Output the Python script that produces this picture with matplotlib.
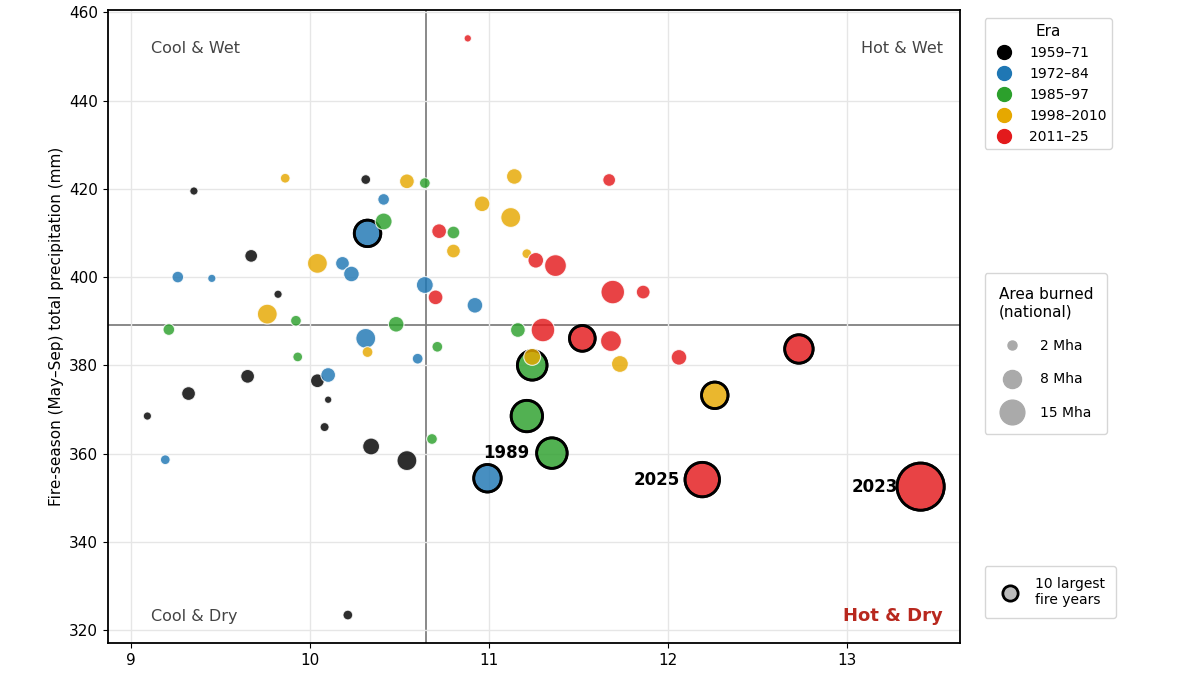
import numpy as np
import matplotlib
matplotlib.use("Agg")
import matplotlib.pyplot as plt
from matplotlib.lines import Line2D

# Fire-season mean temperature (x), total precipitation (y), area burned (Mha), top-10 flag
eras = ["1959–71", "1972–84", "1985–97", "1998–2010", "2011–25"]
era_colors = ["#000000", "#1f77b4", "#2ca02c", "#e6a800", "#e31a1c"]

temp_5971 = [9.35, 10.31, 9.67, 9.82, 9.65, 10.04, 9.32, 10.10, 9.09, 10.08, 10.34, 10.54, 10.21]
prec_5971 = [419.5, 422.1, 404.8, 396.1, 377.5, 376.5, 373.6, 372.2, 368.5, 366.0, 361.6, 358.4, 323.4]
area_5971 = [0.5, 0.7, 1.2, 0.5, 1.4, 1.4, 1.4, 0.4, 0.5, 0.6, 2.1, 2.9, 0.7]
top_5971 = [0] * 13

temp_7284 = [10.41, 10.32, 10.18, 10.23, 9.26, 9.45, 10.64, 10.92, 10.31, 10.60, 10.10, 9.19, 10.99]
prec_7284 = [417.6, 409.9, 403.1, 400.7, 400.0, 399.7, 398.2, 393.6, 386.1, 381.5, 377.8, 358.6, 354.4]
area_7284 = [1.0, 5.2, 1.4, 1.8, 1.0, 0.5, 2.1, 1.8, 2.9, 0.85, 1.6, 0.7, 5.6]
top_7284 = [0, 1, 0, 0, 0, 0, 0, 0, 0, 0, 0, 0, 1]

temp_8597 = [10.64, 10.41, 10.80, 9.92, 9.21, 10.48, 11.16, 10.71, 9.93, 11.24, 11.21, 11.35, 10.68]
prec_8597 = [421.3, 412.6, 410.1, 390.1, 388.1, 389.3, 388.0, 384.2, 381.9, 380.0, 368.5, 360.1, 363.3]
area_8597 = [0.85, 2.1, 1.2, 0.85, 1.0, 1.8, 1.6, 0.85, 0.7, 6.5, 7.3, 6.9, 0.85]
top_8597 = [0, 0, 0, 0, 0, 0, 0, 0, 0, 1, 1, 1, 0]

temp_9810 = [9.86, 10.54, 11.14, 10.96, 11.12, 10.80, 11.21, 10.04, 9.76, 10.32, 11.24, 11.73, 12.26]
prec_9810 = [422.4, 421.7, 422.8, 416.6, 413.5, 405.9, 405.3, 403.1, 391.6, 383.0, 381.9, 380.3, 373.2]
area_9810 = [0.7, 1.6, 1.8, 1.8, 2.9, 1.4, 0.7, 2.9, 2.9, 0.85, 2.1, 2.1, 5.2]
top_9810 = [0] * 12 + [1]

temp_1125 = [10.88, 11.67, 10.72, 11.26, 11.37, 11.69, 11.86, 10.70, 11.30, 11.52, 11.68, 12.06, 12.73, 12.19, 13.41]
prec_1125 = [454.1, 422.0, 410.4, 403.8, 402.6, 396.6, 396.6, 395.4, 388.0, 386.1, 385.5, 381.8, 383.7, 354.1, 352.5]
area_1125 = [0.4, 1.2, 1.6, 1.8, 3.5, 4.1, 1.4, 1.6, 4.1, 4.9, 3.2, 1.8, 6.0, 8.8, 16.5]
top_1125 = [0] * 9 + [1, 0, 0, 1, 1, 1]

labels = {1989: (11.35, 360.1), 2025: (12.19, 354.1), 2023: (13.41, 352.5)}

x_ref = 10.648
y_ref = 389.1

size_legend = [2, 8, 15]

temps = [temp_5971, temp_7284, temp_8597, temp_9810, temp_1125]
precs = [prec_5971, prec_7284, prec_8597, prec_9810, prec_1125]
areas = [area_5971, area_7284, area_8597, area_9810, area_1125]
tops = [top_5971, top_7284, top_8597, top_9810, top_1125]

fig = plt.figure(figsize=(12, 6.75), dpi=100)
ax = fig.add_axes([0.09, 0.047, 0.71, 0.938])

ax.grid(True, color="#e6e6e6", linewidth=1.0, zorder=0)
ax.axvline(x_ref, color="#808080", linewidth=1.3, zorder=1)
ax.axhline(y_ref, color="#808080", linewidth=1.3, zorder=1)

for i in range(5):
    t = np.array(tops[i]).astype(bool)
    s = np.array(areas[i]) * 70
    ec = ["black" if f else "white" for f in t]
    lw = [2.0 if f else 0.8 for f in t]
    ax.scatter(temps[i], precs[i], s=s, c=era_colors[i], alpha=0.82,
               edgecolors=ec, linewidths=lw, zorder=3 + i)
    # keep the black outline fully opaque
    ax.scatter(np.array(temps[i])[t], np.array(precs[i])[t], s=s[t], facecolors="none",
               edgecolors="black", linewidths=2.0, zorder=3 + i)

for yr, (x, y) in labels.items():
    ax.annotate(str(yr), (x, y), xytext=(-16, 0), textcoords="offset points",
                ha="right", va="center", fontsize=12, fontweight="bold", zorder=2)

ax.text(0.05, 0.94, "Cool & Wet", transform=ax.transAxes, fontsize=11.5, color="#444444", va="center")
ax.text(0.98, 0.94, "Hot & Wet", transform=ax.transAxes, fontsize=11.5, color="#444444", va="center", ha="right")
ax.text(0.05, 0.043, "Cool & Dry", transform=ax.transAxes, fontsize=11.5, color="#444444", va="center")
ax.text(0.98, 0.043, "Hot & Dry", transform=ax.transAxes, fontsize=13, color="#b8281e",
        fontweight="bold", va="center", ha="right")

ax.set_xlim(8.87, 13.63)
ax.set_ylim(317, 460.5)
ax.set_xticks([9, 10, 11, 12, 13])
ax.set_yticks(np.arange(320, 461, 20))
ax.tick_params(labelsize=11)
ax.set_ylabel("Fire-season (May–Sep) total precipitation (mm)", fontsize=11)
for sp in ax.spines.values():
    sp.set_linewidth(1.3)

era_handles = [Line2D([], [], marker="o", linestyle="", markersize=10, color=c, label=e)
               for e, c in zip(eras, era_colors)]
leg1 = ax.legend(handles=era_handles, title="Era", loc="upper left", bbox_to_anchor=(1.029, 0.987),
                 borderaxespad=0, fontsize=10, title_fontsize=11, handletextpad=0.8,
                 labelspacing=0.5, frameon=True)
ax.add_artist(leg1)

size_handles = [Line2D([], [], marker="o", linestyle="", markersize=4.6 * np.sqrt(m),
                       color="#aaaaaa", label=f"{m} Mha") for m in size_legend]
leg2 = ax.legend(handles=size_handles, title="Area burned\n(national)", loc="upper left",
                 bbox_to_anchor=(1.029, 0.5845), borderaxespad=0, fontsize=10, title_fontsize=11,
                 labelspacing=1.4, handletextpad=1.0, borderpad=1.0)
leg2._legend_box.align = "left"
ax.add_artist(leg2)

top_handle = [Line2D([], [], marker="o", linestyle="", markersize=11, markerfacecolor="#bbbbbb",
                     markeredgecolor="black", markeredgewidth=2, label="10 largest\nfire years")]
ax.legend(handles=top_handle, loc="lower left", bbox_to_anchor=(1.029, 0.0395), borderaxespad=0,
          fontsize=10, borderpad=0.8)

plt.savefig("out.png", dpi=100)
